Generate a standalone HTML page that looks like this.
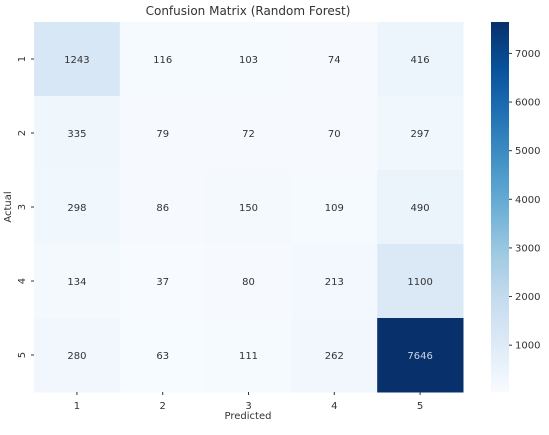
<!DOCTYPE html>
<html><head><meta charset="utf-8">
<style>
body{margin:0;background:#fff;font-family:"Liberation Sans","DejaVu Sans",sans-serif;}
svg text{font-family:"DejaVu Sans","Liberation Sans",sans-serif;}
</style></head>
<body>
<svg id="chart" width="549" height="430" viewBox="0 0 549 430">
<defs>
<linearGradient id="cbg" x1="0" y1="1" x2="0" y2="0">
<stop offset="0" stop-color="#f7fbff"/><stop offset="0.125" stop-color="#deebf7"/>
<stop offset="0.25" stop-color="#c6dbef"/><stop offset="0.375" stop-color="#9ecae1"/>
<stop offset="0.5" stop-color="#6baed6"/><stop offset="0.625" stop-color="#4292c6"/>
<stop offset="0.75" stop-color="#2171b5"/><stop offset="0.875" stop-color="#08519c"/>
<stop offset="1" stop-color="#08306b"/>
</linearGradient>
</defs>
<text x="248" y="15" font-size="12" text-anchor="middle" fill="#333">Confusion Matrix (Random Forest)</text>
<g id="cells"></g>
<rect x="491" y="22" width="18" height="370" fill="url(#cbg)"/>
<g id="cbticks"></g>
<text x="248" y="419" font-size="10" text-anchor="middle" fill="#333">Predicted</text>
<text transform="translate(11,207) rotate(-90)" font-size="10" text-anchor="middle" fill="#333">Actual</text>
</svg>
<script>
const categories=["1","2","3","4","5"];
const row1=[1243,116,103,74,416];
const row2=[335,79,72,70,297];
const row3=[298,86,150,109,490];
const row4=[134,37,80,213,1100];
const row5=[280,63,111,262,7646];
const matrix=[row1,row2,row3,row4,row5];
const cbTicks=[1000,2000,3000,4000,5000,6000,7000];

const L=34,T=22,W=429,H=370,n=categories.length,cw=W/n,ch=H/n;
const all=matrix.flat(),vmin=Math.min(...all),vmax=Math.max(...all);
const stops=["#f7fbff","#deebf7","#c6dbef","#9ecae1","#6baed6","#4292c6","#2171b5","#08519c","#08306b"].map(h=>[1,3,5].map(i=>parseInt(h.substr(i,2),16)));
function color(v){let t=(v-vmin)/(vmax-vmin);t=Math.max(0,Math.min(1,t));const p=t*8,i=Math.min(7,Math.floor(p)),f=p-i;
const c=stops[i].map((a,k)=>Math.round(a+(stops[i+1][k]-a)*f));return [`rgb(${c})`,c];}
const xS=i=>L+i*cw, yS=i=>T+i*ch, cbY=v=>T+H-(v-vmin)/(vmax-vmin)*H;
const NS="http://www.w3.org/2000/svg",g=document.getElementById('cells'),svg=document.getElementById('chart');
function mk(tag,attrs,parent){const e=document.createElementNS(NS,tag);for(const k in attrs)e.setAttribute(k,attrs[k]);parent.appendChild(e);return e;}
matrix.forEach((row,r)=>row.forEach((v,c)=>{
 const [col,rgb]=color(v);
 const rect=mk('rect',{x:xS(c),y:yS(r),width:cw+0.5,height:ch+0.5,fill:col},g);
 
 
 const lum=0.299*rgb[0]+0.587*rgb[1]+0.114*rgb[2];
 const t=mk('text',{x:xS(c)+cw/2,y:yS(r)+ch/2+4,'font-size':10,'text-anchor':'middle',fill:lum<128?'#c8d4e6':'#333'},g);
 t.textContent=v;
 
 
}));
categories.forEach((c,i)=>{
 const tx=mk('text',{x:xS(i)+cw/2,y:T+H+17,'font-size':10,'text-anchor':'middle',fill:'#333'},svg);tx.textContent=c;
 
 
 mk('line',{x1:xS(i)+cw/2,x2:xS(i)+cw/2,y1:T+H,y2:T+H+3,stroke:'#333'},svg);
 const yc=yS(i)+ch/2;
 const ty=mk('text',{transform:`translate(${L-9},${yc}) rotate(-90)`,'font-size':10,'text-anchor':'middle',fill:'#333'},svg);ty.textContent=c;
 
 
 mk('line',{x1:L-3,x2:L,y1:yc,y2:yc,stroke:'#333'},svg);
});
const cb=document.getElementById('cbticks');
cbTicks.forEach(v=>{const y=cbY(v);
 mk('line',{x1:509,x2:512,y1:y,y2:y,stroke:'#333'},cb);
 const t=mk('text',{x:515,y:y+3.5,'font-size':10,fill:'#333'},cb);t.textContent=v;
 
 
});
</script>
</body></html>
